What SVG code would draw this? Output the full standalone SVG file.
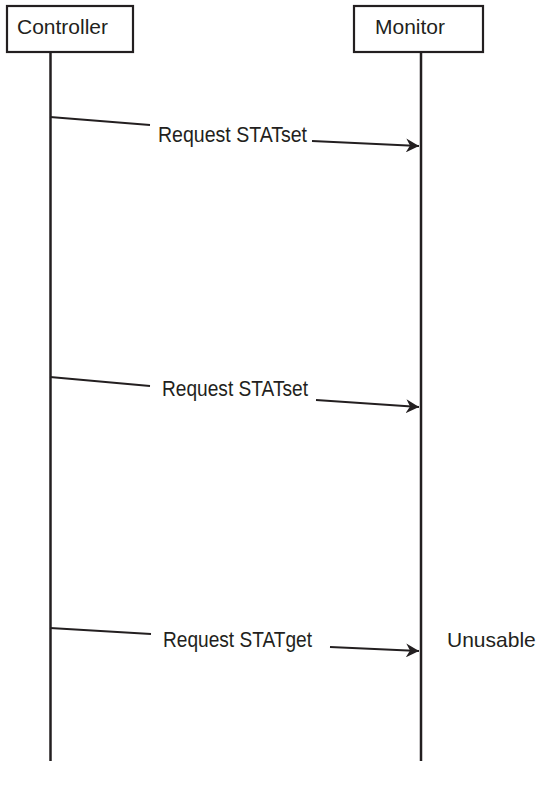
<svg xmlns="http://www.w3.org/2000/svg" width="536" height="791" viewBox="0 0 536 791">
<defs>
<style>
.box{fill:#fff;stroke:#231f20;stroke-width:2.2}
.life{stroke:#231f20;stroke-width:2.5;fill:none}
.msg{stroke:#231f20;stroke-width:1.8;fill:none}
.lbl{font-family:"Liberation Sans",Arial,sans-serif;font-size:21px;fill:#231f20}
.req{font-family:"Liberation Sans",Arial,sans-serif;font-size:22px;fill:#231f20}
</style>
<marker id="ah" viewBox="0 0 13 14" refX="13" refY="7" markerWidth="13" markerHeight="14" markerUnits="userSpaceOnUse" orient="auto">
<path d="M0,0 L13,7 L0,14 L4,7 Z" fill="#231f20"/>
</marker>
</defs>
<g id="controller">
<rect class="box" x="7" y="6" width="126" height="46"/>
<text class="lbl" x="17" y="34">Controller</text>
</g>
<g id="monitor">
<rect class="box" x="354" y="6" width="129" height="46"/>
<text class="lbl" x="375" y="34">Monitor</text>
</g>
<g id="connectors">
<line class="life" x1="50.5" y1="52" x2="50.5" y2="761"/>
<line class="life" x1="421" y1="52" x2="421" y2="761"/>
<line class="msg" x1="50" y1="117" x2="150" y2="125"/>
<line class="msg" x1="312" y1="141" x2="419" y2="146" marker-end="url(#ah)"/>
<line class="msg" x1="50" y1="377" x2="150" y2="386"/>
<line class="msg" x1="316" y1="400" x2="419" y2="407" marker-end="url(#ah)"/>
<line class="msg" x1="50" y1="628" x2="151" y2="634"/>
<line class="msg" x1="330" y1="647" x2="419" y2="651" marker-end="url(#ah)"/>
</g>
<g id="labels">
<text class="req" x="158" y="142" textLength="149" lengthAdjust="spacingAndGlyphs">Request STATset</text>
<text class="req" x="162" y="396" textLength="146" lengthAdjust="spacingAndGlyphs">Request STATset</text>
<text class="req" x="163" y="647" textLength="149" lengthAdjust="spacingAndGlyphs">Request STATget</text>
<text class="lbl" x="447" y="647">Unusable</text>
</g>
</svg>
